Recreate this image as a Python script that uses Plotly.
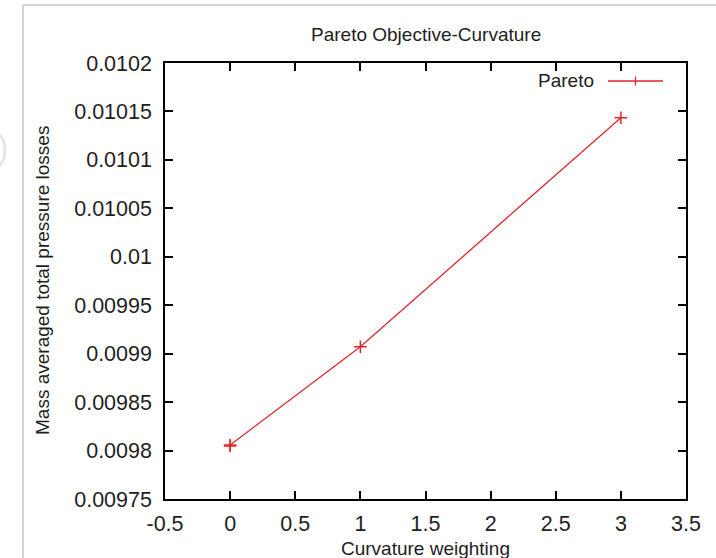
import plotly.graph_objects as go

# Pareto front: curvature weighting vs. mass averaged total pressure losses
curvature_weighting = [0, 0, 1, 3]
pressure_losses = [0.0098047, 0.0098057, 0.0099072, 0.0101435]

x_ticks = [-0.5, 0, 0.5, 1, 1.5, 2, 2.5, 3, 3.5]
x_tick_labels = ["-0.5", "0", "0.5", "1", "1.5", "2", "2.5", "3", "3.5"]
y_ticks = [0.00975, 0.0098, 0.00985, 0.0099, 0.00995, 0.01, 0.01005, 0.0101, 0.01015, 0.0102]
y_tick_labels = ["0.00975", "0.0098", "0.00985", "0.0099", "0.00995", "0.01",
                 "0.01005", "0.0101", "0.01015", "0.0102"]

W, H = 716, 558
L, R, T, B = 165, 30, 63, 59
PW, PH = W - L - R, H - T - B

FONT = "Liberation Sans, Arial, Helvetica, sans-serif"
TXT = "#1e1e1e"
RED = "#e0262a"


def px_x(p):
    return (p - L) / PW


def px_y(p):
    return (H - B - p) / PH


fig = go.Figure()
fig.add_trace(go.Scatter(
    x=curvature_weighting, y=pressure_losses, mode="lines+markers",
    line=dict(color=RED, width=1.3),
    marker=dict(symbol="cross-thin", size=9, line=dict(color=RED, width=1.5)),
    showlegend=False, cliponaxis=False,
))

axis_common = dict(
    showline=True, linecolor="black", linewidth=1.5, mirror="ticks",
    ticks="inside", ticklen=8, tickwidth=1.5, tickcolor="black",
    showgrid=False, zeroline=False,
    tickfont=dict(family=FONT, size=21.5, color=TXT),
)

fig.update_xaxes(range=[-0.5, 3.5], tickvals=x_ticks, ticktext=x_tick_labels,
                 ticklabelstandoff=4, **axis_common)
fig.update_yaxes(range=[0.00975, 0.0102], tickvals=y_ticks, ticktext=y_tick_labels,
                 ticklabelstandoff=7, **axis_common)

annotations = [
    dict(text="Pareto Objective-Curvature", x=px_x(425.5), y=px_y(35),
         font=dict(family=FONT, size=19, color=TXT)),
    dict(text="Curvature weighting", x=px_x(425.5), y=px_y(548),
         font=dict(family=FONT, size=19, color=TXT)),
    dict(text="Mass averaged total pressure losses", x=px_x(42), y=px_y(281),
         textangle=-90, font=dict(family=FONT, size=19, color=TXT)),
    dict(text="Pareto", x=px_x(596), y=px_y(80), xanchor="right",
         font=dict(family=FONT, size=19, color=TXT)),
]
for a in annotations:
    a.update(xref="paper", yref="paper", showarrow=False)
    a.setdefault("xanchor", "center")
    a.setdefault("yanchor", "middle")

shapes = [
    # key sample: line with a cross
    dict(type="line", x0=px_x(608), x1=px_x(663), y0=px_y(81), y1=px_y(81),
         line=dict(color=RED, width=1.3)),
    dict(type="line", x0=px_x(635.5), x1=px_x(635.5), y0=px_y(76.5), y1=px_y(85.5),
         line=dict(color=RED, width=1.3)),
    # outer page frame
    dict(type="line", x0=px_x(23), x1=px_x(720), y0=px_y(5), y1=px_y(5),
         line=dict(color="#d4d4d4", width=2)),
    dict(type="line", x0=px_x(23), x1=px_x(23), y0=px_y(5), y1=px_y(562),
         line=dict(color="#d4d4d4", width=2)),
    # faint ring at the left edge
    dict(type="circle", x0=px_x(-45), x1=px_x(5), y0=px_y(125), y1=px_y(175),
         line=dict(color="#e6e6e6", width=3)),
]
for s in shapes:
    s.update(xref="paper", yref="paper", layer="above")

fig.update_layout(
    width=W, height=H,
    margin=dict(l=L, r=R, t=T, b=B, pad=0),
    paper_bgcolor="white", plot_bgcolor="white",
    annotations=annotations, shapes=shapes,
    showlegend=False,
)

fig.write_html("out.html")
